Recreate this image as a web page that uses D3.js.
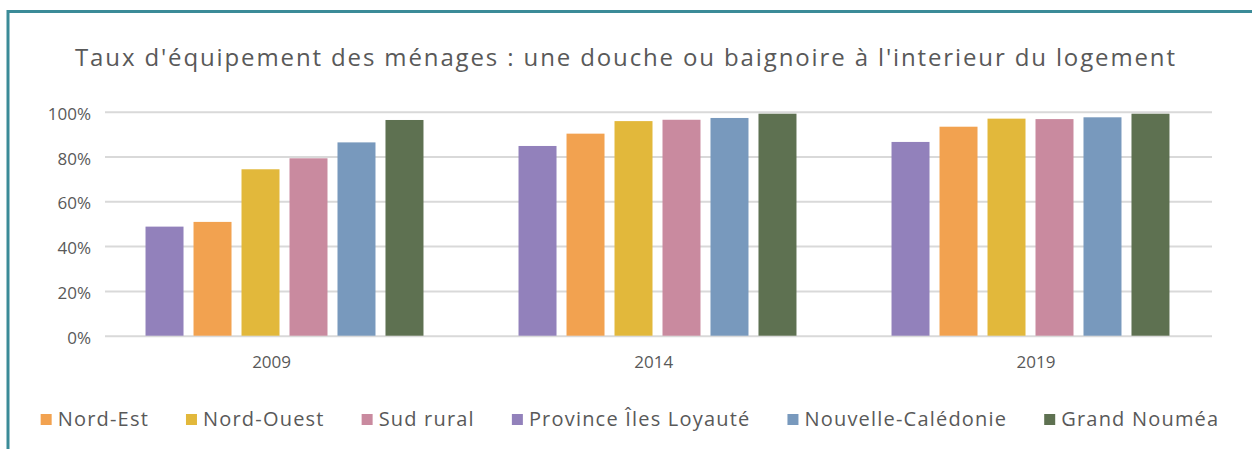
<!DOCTYPE html>
<html>
<head>
<meta charset="utf-8">
<script src="https://cdn.jsdelivr.net/npm/d3@7"></script>
<style>
  html, body { margin: 0; padding: 0; background: #fff; }
  svg { display: block; }
</style>
</head>
<body>
<div id="chart-area"></div>
<script>
// ----------------- Data -----------------
let years = ["2009", "2014", "2019"];
let series = ["Province Îles Loyauté", "Nord-Est", "Nord-Ouest", "Sud rural", "Nouvelle-Calédonie", "Grand Nouméa"];
let legend_order = ["Nord-Est", "Nord-Ouest", "Sud rural", "Province Îles Loyauté", "Nouvelle-Calédonie", "Grand Nouméa"];
let colors = ["#9281bb", "#f2a250", "#e2b83b", "#c98a9f", "#7899bd", "#5e7151"];

let iles_loyaute = [48.7, 84.7, 86.5];
let nord_est = [50.8, 90.2, 93.3];
let nord_ouest = [74.3, 95.8, 96.9];
let sud_rural = [79.2, 96.4, 96.7];
let nouvelle_caledonie = [86.3, 97.2, 97.5];
let grand_noumea = [96.3, 99.1, 99.1];
let y_ticks = [0, 20, 40, 60, 80, 100];

let values = [iles_loyaute, nord_est, nord_ouest, sud_rural, nouvelle_caledonie, grand_noumea];
let title = "Taux d'équipement des ménages : une douche ou baignoire à l'interieur du logement";

let width = 1252;
let height = 449;
let text_color = "#595959";

let svg = d3.select("#chart-area")
  .append("svg")
    .attr("width", width)
    .attr("height", height)

// frame
svg.append("rect")
  .attr("x", 8)
  .attr("y", 11.5)
  .attr("width", 1400)
  .attr("height", 600)
  .attr("fill", "none")
  .attr("stroke", "#3b8b98")
  .attr("stroke-width", 3)

// title
svg.append("text")
  .attr("x", 625)
  .attr("y", 66)
  .attr("text-anchor", "middle")
  .attr("font-family", "'Open Sans', sans-serif")
  .attr("font-size", "24px")
  .attr("fill", text_color)
  .attr("textLength", 1100)
  .attr("lengthAdjust", "spacing")
  .text(title)

// ----------------- Scales -----------------
let y = d3.scaleLinear()
  .domain([0, 100])
  .range([335.7, 111.7])

let x0 = d3.scaleBand()
  .domain(years)
  .range([98, 1217])
  .paddingInner(0.228)
  .paddingOuter(0.114)

let x1 = d3.scaleBand()
  .domain(series)
  .range([0, x0.bandwidth()])
  .paddingInner(10 / 48)
  .paddingOuter(5 / 48)

// category labels sit slightly off the bar groups in the original
let x_labels = d3.scaleBand()
  .domain(years)
  .range([80.5, 1227])

// ----------------- Grid + Y axis -----------------
let y_axis_group = svg.append("g")
  .attr("transform", "translate(105, 0)")
  .call(d3.axisLeft(y)
    .tickValues(y_ticks)
    .tickSize(-1107)
    .tickPadding(14)
    .tickFormat(d => d + "%"))

y_axis_group.select(".domain").remove()
y_axis_group.selectAll("line")
  .attr("stroke", "#d9d9d9")
  .attr("stroke-width", 2)
y_axis_group.selectAll("text")
  .attr("font-family", "'Open Sans', sans-serif")
  .attr("font-size", "17px")
  .attr("fill", text_color)
  .attr("dy", "0.45em")

// ----------------- X axis -----------------
let x_axis_group = svg.append("g")
  .attr("transform", "translate(0, 335.7)")
  .call(d3.axisBottom(x_labels).tickSize(0).tickPadding(20))

x_axis_group.select(".domain").remove()
x_axis_group.selectAll("text")
  .attr("font-family", "'Open Sans', sans-serif")
  .attr("font-size", "17px")
  .attr("fill", text_color)

// ----------------- Bars -----------------
let groups = svg.selectAll("g.year")
  .data(years)
  .enter()
  .append("g")
    .attr("class", "year")
    .attr("transform", year => `translate(${ x0(year) }, 0)`)

groups.selectAll("rect")
  .data((year, i) => series.map((name, s) => ({ name: name, value: values[s][i], color: colors[s] })))
  .enter()
  .append("rect")
    .attr("x", d => x1(d.name))
    .attr("y", d => y(d.value))
    .attr("width", x1.bandwidth())
    .attr("height", d => y(0) - y(d.value))
    .attr("fill", d => d.color)

// ----------------- Legend -----------------
let legend = svg.append("g")
let items = legend.selectAll("g")
  .data(legend_order)
  .enter()
  .append("g")

items.append("rect")
  .attr("y", 414)
  .attr("width", 11)
  .attr("height", 11)
  .attr("fill", name => colors[series.indexOf(name)])

items.append("text")
  .attr("x", 17)
  .attr("y", 426)
  .attr("font-family", "'Open Sans', sans-serif")
  .attr("font-size", "20px")
  .attr("letter-spacing", "1.2px")
  .attr("fill", text_color)
  .text(name => name)

// flow the items left to right, then centre the row
let gap = 37;
let cursor = 0;
items.each(function() {
  let item = d3.select(this);
  let w = 17 + item.select("text").node().getComputedTextLength();
  item.attr("transform", `translate(${ cursor }, 0)`);
  cursor += w + gap;
})
let total = cursor - gap;
legend.attr("transform", `translate(${ 630 - total / 2 }, 0)`)
</script>
</body>
</html>
